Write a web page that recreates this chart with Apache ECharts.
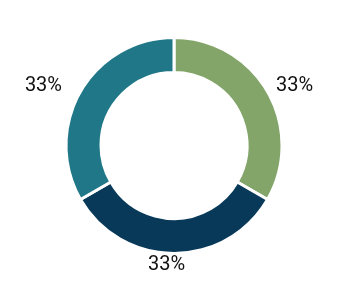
<!DOCTYPE html>
<html><head><meta charset="utf-8">
<script src="https://cdn.jsdelivr.net/npm/echarts@6/dist/echarts.min.js"></script>
<style>html,body{margin:0;padding:0;background:#fff}#c{width:348px;height:290px}</style>
</head><body><div id="c"></div>
<script>
const categories = ['A', 'B', 'C'];
const values = [1, 1, 1];
const colors = ['#83a56a', '#083959', '#1f7787'];
const labelShift = [[0, -4], [-31, 7.5], [-10, -4]];
const chart = echarts.init(document.getElementById('c'), null, {renderer: 'canvas'});
chart.setOption({
  animation: false,
  series: [{
    type: 'pie',
    center: [174, 145.5],
    radius: [73, 108],
    startAngle: 90,
    clockwise: true,
    data: categories.map((n, i) => ({name: n, value: values[i], itemStyle: {color: colors[i]}})),
    itemStyle: {borderColor: '#fff', borderWidth: 3},
    label: {
      show: true, position: 'outside',
      formatter: p => Math.round(p.percent) + '%',
      fontFamily: 'Roboto, sans-serif',
      fontSize: 20, color: '#111'
    },
    labelLine: {show: false, length: 4, length2: 0},
    labelLayout: p => ({dx: labelShift[p.dataIndex][0], dy: labelShift[p.dataIndex][1]}),
    emphasis: {disabled: true}
  }]
});
</script></body></html>
